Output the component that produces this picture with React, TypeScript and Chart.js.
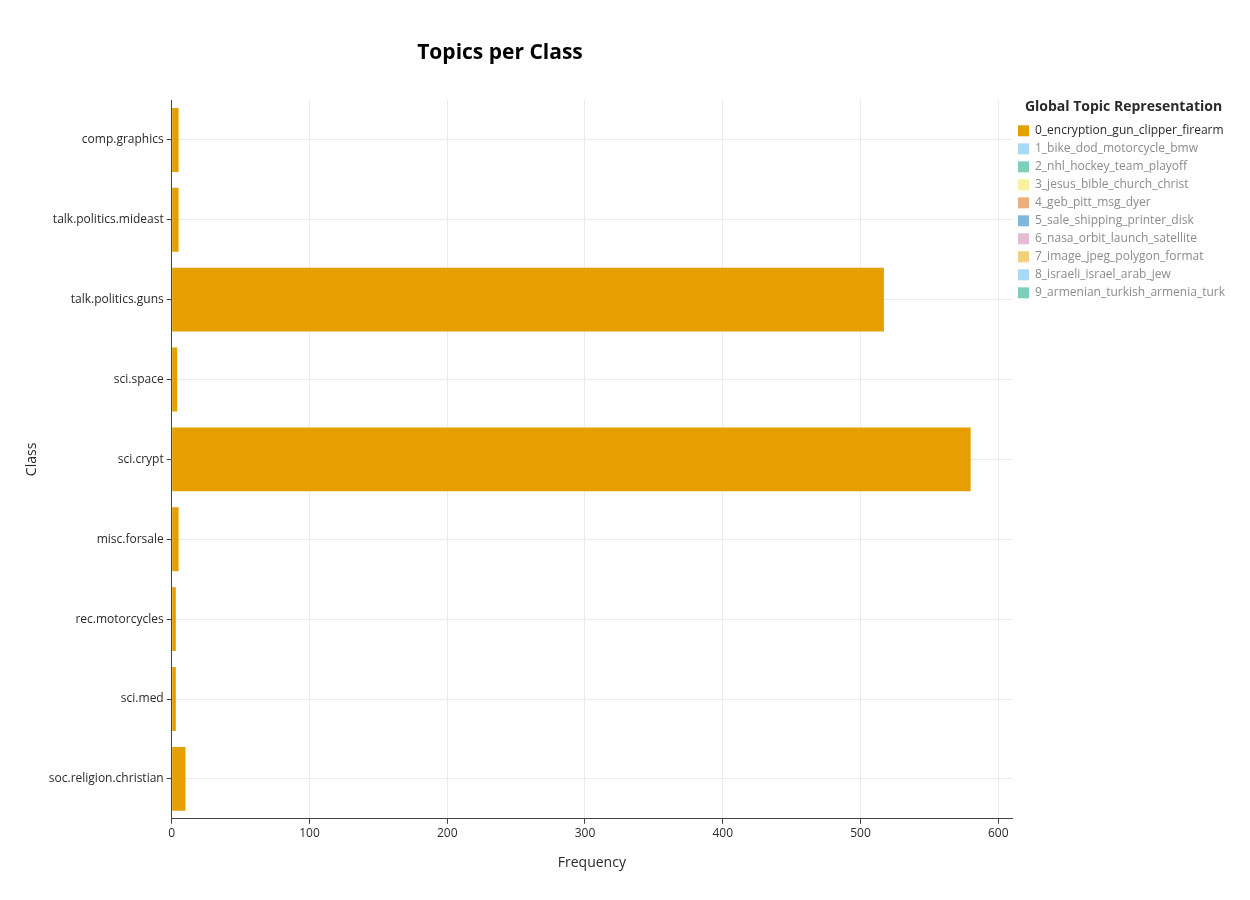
import React, { useEffect, useRef } from 'react';
import Chart from 'chart.js/auto';

const classes = [
  'comp.graphics',
  'talk.politics.mideast',
  'talk.politics.guns',
  'sci.space',
  'sci.crypt',
  'misc.forsale',
  'rec.motorcycles',
  'sci.med',
  'soc.religion.christian',
];

const topics = [
  '0_encryption_gun_clipper_firearm',
  '1_bike_dod_motorcycle_bmw',
  '2_nhl_hockey_team_playoff',
  '3_jesus_bible_church_christ',
  '4_geb_pitt_msg_dyer',
  '5_sale_shipping_printer_disk',
  '6_nasa_orbit_launch_satellite',
  '7_image_jpeg_polygon_format',
  '8_israeli_israel_arab_jew',
  '9_armenian_turkish_armenia_turk',
];

const topicColors = [
  '#E69F00', '#56B4E9', '#009E73', '#F0E442', '#D55E00',
  '#0072B2', '#CC79A7', '#E69F00', '#56B4E9', '#009E73',
];

// frequency of topic 0 per class
const topic0Freq = [5, 5, 517, 4, 580, 5, 3, 3, 10];

const xTicks = [0, 100, 200, 300, 400, 500, 600];

const FONT = '"Open Sans", Verdana, Arial, sans-serif';

const App: React.FC = () => {
  const canvasRef = useRef<HTMLCanvasElement | null>(null);

  useEffect(() => {
    document.body.style.margin = '0';
    if (!canvasRef.current) return;

    const titlePlugin = {
      id: 'plotTitle',
      afterDraw(chart: any) {
        const ctx = chart.ctx;
        ctx.save();
        ctx.font = `bold 21px ${FONT}`;
        ctx.fillStyle = '#000';
        ctx.textAlign = 'center';
        ctx.textBaseline = 'middle';
        ctx.fillText('Topics per Class', chart.width * 0.4, 53);
        ctx.restore();
      },
    };

    const chart = new Chart(canvasRef.current, {
      type: 'bar',
      data: {
        labels: classes,
        datasets: topics.map((t, i) => ({
          label: t,
          data: i === 0 ? topic0Freq : [],
          backgroundColor: topicColors[i],
          hidden: i !== 0,
          categoryPercentage: 0.8,
          barPercentage: 1,
          grouped: false,
        })),
      },
      options: {
        indexAxis: 'y',
        animation: false,
        responsive: false,
        maintainAspectRatio: false,
        layout: { padding: { top: 100, left: 20, right: 15, bottom: 25 } },
        plugins: {
          tooltip: { enabled: false },
          legend: {
            position: 'right',
            align: 'start',
            title: {
              display: true,
              text: 'Global Topic Representation',
              color: '#2a2a2a',
              font: { family: FONT, size: 14, weight: 'bold' },
              padding: { top: 0, bottom: 2 },
            },
            labels: {
              boxWidth: 11,
              boxHeight: 11,
              padding: 6,
              font: { family: FONT, size: 12 },
              generateLabels: (c: any) =>
                c.data.datasets.map((ds: any, i: number) => ({
                  text: ds.label,
                  fillStyle: i === 0 ? ds.backgroundColor : ds.backgroundColor + '80',
                  strokeStyle: 'transparent',
                  lineWidth: 0,
                  hidden: false,
                  fontColor: i === 0 ? '#2a2a2a' : '#8c8c8c',
                  datasetIndex: i,
                })),
            },
          },
        },
        scales: {
          x: {
            min: 0,
            max: 610,
            afterBuildTicks: (axis: any) => {
              axis.ticks = xTicks.map((v) => ({ value: v }));
            },
            grid: { color: '#ebebeb', drawTicks: true, tickLength: 5, tickColor: '#444' },
            border: { color: '#444', width: 1 },
            ticks: { color: '#2a2a2a', font: { family: FONT, size: 12 } },
            title: {
              display: true,
              text: 'Frequency',
              color: '#2a2a2a',
              font: { family: FONT, size: 14 },
              padding: { top: 10 },
            },
          },
          y: {
            grid: { offset: false, color: '#ebebeb', tickLength: 5, tickColor: '#444' },
            border: { color: '#444', width: 1 },
            ticks: { color: '#2a2a2a', font: { family: FONT, size: 12 } },
            title: {
              display: true,
              text: 'Class',
              color: '#2a2a2a',
              font: { family: FONT, size: 14 },
              padding: { bottom: 5 },
            },
          },
        },
      },
      plugins: [titlePlugin],
    } as any);

    return () => chart.destroy();
  }, []);

  return (
    <div style={{ width: 1250, height: 900 }}>
      <canvas ref={canvasRef} width={1250} height={900} />
    </div>
  );
};

export default App;
